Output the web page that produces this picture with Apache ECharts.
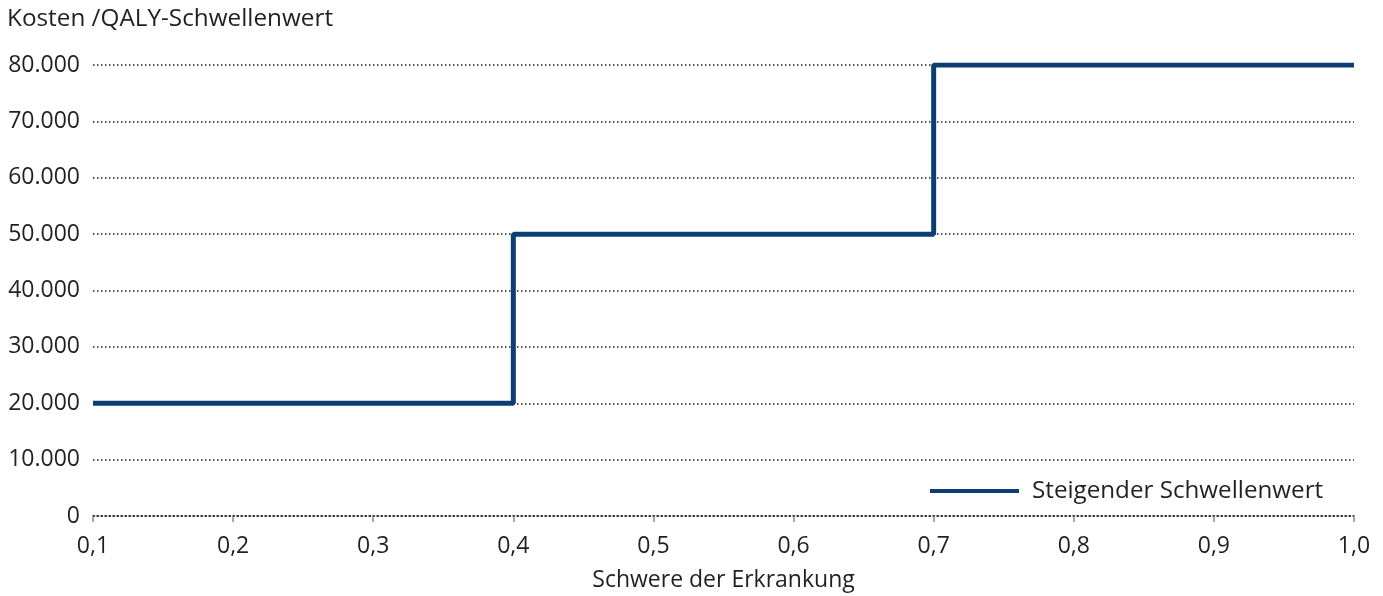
<!DOCTYPE html>
<html><head><meta charset="utf-8">
<script src="https://cdn.jsdelivr.net/npm/echarts@6/dist/echarts.min.js"></script>
<style>html,body{margin:0;padding:0;background:#fff}#c{width:1383px;height:596px}</style>
</head><body><div id="c"></div>
<script>
const severity = [0.1, 0.4, 0.7, 1.0];
const threshold = [20000, 50000, 80000, 80000];
const seriesName = 'Steigender Schwellenwert';
const yTitle = 'Kosten /QALY-Schwellenwert';
const xTitle = 'Schwere der Erkrankung';

const FONT = '"Open Sans", "Noto Sans", sans-serif';
const chart = echarts.init(document.getElementById('c'));
const fmtY = v => v === 0 ? '0' : String(v).replace(/\B(?=(\d{3})+(?!\d))/g, '.');
chart.setOption({
  animation: false,
  textStyle: {fontFamily: FONT},
  grid: {left: 93, right: 29, top: 65, bottom: 80, containLabel: false, outerBoundsMode: 'none'},
  graphic: [{type: 'text', left: 7, top: 7, style: {text: yTitle, font: '24.3px ' + FONT, fill: '#231f20'}}],
  legend: {
    left: 925, top: 474, itemWidth: 89, itemHeight: 4, itemGap: 10,
    icon: 'rect',
    textStyle: {fontSize: 24.2, color: '#231f20', fontFamily: FONT, padding: [0,0,0,8]},
    data: [seriesName]
  },
  xAxis: {
    type: 'value', min: 0.1, max: 1.0, interval: 0.1,
    name: xTitle, nameLocation: 'middle', nameGap: 53,
    nameTextStyle: {fontSize: 23, color: '#231f20', fontFamily: FONT},
    axisLine: {show: true, lineStyle: {color: '#231f20', type: [1.5, 2.5], width: 1.5}},
    axisTick: {show: true, length: 6, lineStyle: {color: '#8a8a8a', width: 1.5}},
    axisLabel: {fontSize: 23, color: '#231f20', margin: 19, fontFamily: FONT,
      formatter: v => v.toFixed(1).replace('.', ',')},
    splitLine: {show: false}
  },
  yAxis: {
    type: 'value', min: 0, max: 80000, interval: 10000,
    axisLine: {show: false}, axisTick: {show: false},
    axisLabel: {fontSize: 23, color: '#231f20', margin: 13, fontFamily: FONT, formatter: fmtY},
    splitLine: {show: true, lineStyle: {color: '#231f20', type: [1.5, 2.5], width: 1.5}}
  },
  series: [{
    name: seriesName, type: 'line', step: 'end',
    data: severity.map((x, i) => [x, threshold[i]]),
    symbol: 'none',
    lineStyle: {color: '#0b3f74', width: 5},
    itemStyle: {color: '#0b3f74'}
  }]
});
</script></body></html>
